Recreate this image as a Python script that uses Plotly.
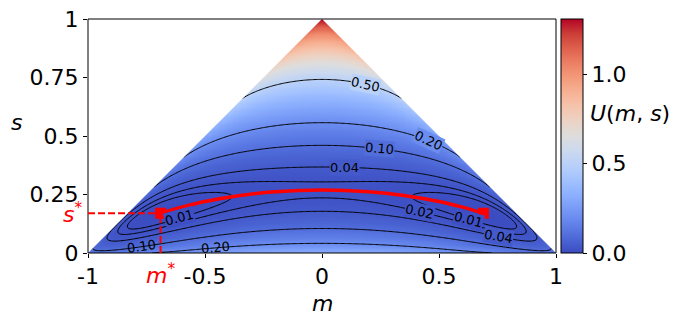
import numpy as np
import plotly.graph_objects as go
from plotly.colors import sample_colorscale

# model parameters (fit so the minimum / saddle match the picture)
K_COUPLING = 1.4631
L_QUARTIC = 0.5567
D_FIELD = -0.305

M_STAR = -0.69
S_STAR = 0.17
LEVELS = [0.01, 0.02, 0.04, 0.10, 0.20, 0.50]
Z_MAX = 1.31

# minimum energy path (red curve)
PATH_M = [-0.69, -0.6, -0.5, -0.35, -0.2, 0.0, 0.2, 0.35, 0.5, 0.6, 0.69]
PATH_S = [0.17, 0.196, 0.22, 0.246, 0.262, 0.269, 0.262, 0.246, 0.22, 0.196, 0.17]

# contour labels: level, m, s, angle, whether the line is broken behind it
LABEL_LEVELS = [0.50, 0.20, 0.10, 0.04, 0.02, 0.01, 0.04, 0.01, 0.10, 0.20]
LABEL_M = [0.187, 0.455, 0.245, 0.094, 0.416, 0.625, 0.754, -0.607, -0.771, -0.457]
LABEL_S = [0.721, 0.478, 0.454, 0.368, 0.167, 0.153, 0.073, 0.153, 0.034, 0.027]
LABEL_ANGLE = [12, 25, 5, 0, 12, 15, 10, -15, -8, -5]
LABEL_GAP = [True, True, True, True, True, True, True, True, False, False]

X_TICKS = [-1, -0.5, 0, 0.5, 1]
X_LABELS = ["-1", "-0.5", "0", "0.5", "1"]
Y_TICKS = [0, 0.25, 0.5, 0.75, 1]
Y_LABELS = ["0", "0.25", "0.5", "0.75", "1"]
CB_TICKS = [0.0, 0.5, 1.0]
CB_LABELS = ["0.0", "0.5", "1.0"]

COOLWARM = [
    [0.0, "rgb(59,76,192)"], [0.0625, "rgb(77,104,215)"], [0.125, "rgb(98,130,234)"],
    [0.1875, "rgb(119,154,247)"], [0.25, "rgb(141,176,254)"], [0.3125, "rgb(163,194,255)"],
    [0.375, "rgb(184,208,249)"], [0.4375, "rgb(204,217,238)"], [0.5, "rgb(221,221,221)"],
    [0.5625, "rgb(236,211,197)"], [0.625, "rgb(245,196,172)"], [0.6875, "rgb(247,177,148)"],
    [0.75, "rgb(244,154,123)"], [0.8125, "rgb(236,127,99)"], [0.875, "rgb(222,96,77)"],
    [0.9375, "rgb(203,62,56)"], [1.0, "rgb(180,4,38)"],
]


def xlogx(x):
    return x * np.log(x)


m = np.linspace(-1, 1, 401)
s = np.linspace(0, 1, 201)
mm, ss = np.meshgrid(m, s)
n_plus = np.clip((1 - ss + mm) / 2, 1e-12, None)
n_minus = np.clip((1 - ss - mm) / 2, 1e-12, None)
s_c = np.clip(ss, 1e-12, None)
g = (-K_COUPLING * mm**2 / 2 - L_QUARTIC * mm**4 / 4 + D_FIELD * (1 - ss)
     + xlogx(n_plus) + xlogx(n_minus) + xlogx(s_c))
inside = np.abs(mm) <= 1 - ss + 1e-9
U = g - g[inside].min()


def snap_to_contour(level, lm, ls):
    """Move a label vertically onto the drawn contour line nearest to it."""
    j = np.argmin(np.abs(m - lm))
    d = U[:, j] - level
    idx = np.where(np.sign(d[:-1]) != np.sign(d[1:]))[0]
    cands = [s[i] + (s[i + 1] - s[i]) * d[i] / (d[i] - d[i + 1]) for i in idx]
    cands = [c for c in cands if c <= 1 - abs(lm)]
    if not cands:
        return ls
    return min(cands, key=lambda c: abs(c - ls))


fig = go.Figure()
fig.add_trace(go.Heatmap(
    x=m, y=s, z=U, zmin=0, zmax=Z_MAX, colorscale=COOLWARM, zsmooth="best",
    hoverinfo="skip",
    colorbar=dict(
        x=1.0107, xanchor="left", y=0.5, yanchor="middle", len=1, lenmode="fraction",
        thickness=22, thicknessmode="pixels", xpad=0, ypad=0,
        outlinewidth=1, outlinecolor="black",
        ticks="outside", ticklen=4, tickwidth=1, tickcolor="black",
        tickvals=CB_TICKS, ticktext=CB_LABELS, tickfont=dict(size=22, color="black"),
    ),
))

for lvl in LEVELS:
    fig.add_trace(go.Contour(
        x=m, y=s, z=U, autocontour=False, showscale=False, hoverinfo="skip",
        contours=dict(start=lvl, end=lvl, size=1, coloring="none", showlabels=False),
        line=dict(color="black", width=1),
    ))

fig.add_trace(go.Scatter(x=PATH_M, y=PATH_S, mode="lines",
                         line=dict(color="red", width=3.5, shape="spline"), hoverinfo="skip"))
fig.add_trace(go.Scatter(x=[M_STAR, -M_STAR], y=[S_STAR, S_STAR], mode="markers",
                         marker=dict(symbol="square", size=11, color="red"), hoverinfo="skip"))

shapes = [
    # white mask outside the triangle
    dict(type="path", path="M -1,0 L 0,1 L -1,1 Z", xref="x", yref="y",
         fillcolor="white", line=dict(width=0), layer="above"),
    dict(type="path", path="M 1,0 L 0,1 L 1,1 Z", xref="x", yref="y",
         fillcolor="white", line=dict(width=0), layer="above"),
    dict(type="rect", xref="x domain", yref="y domain", x0=0, x1=1, y0=0, y1=1,
         line=dict(color="black", width=1), layer="above"),
    dict(type="line", xref="x", yref="y", x0=-1, x1=M_STAR, y0=S_STAR, y1=S_STAR,
         line=dict(color="red", width=2, dash="7px,3px"), layer="above"),
    dict(type="line", xref="x", yref="y", x0=M_STAR, x1=M_STAR, y0=0, y1=S_STAR,
         line=dict(color="red", width=2, dash="7px,3px"), layer="above"),
]

annotations = [
    dict(text="<i>m</i>", x=0.5, y=-0.214, xref="paper", yref="paper",
         xanchor="center", yanchor="middle",
         showarrow=False, font=dict(size=22, color="black")),
    dict(text="<i>s</i>", x=-0.152, y=0.556, xref="paper", yref="paper",
         xanchor="center", yanchor="middle",
         showarrow=False, font=dict(size=22, color="black")),
    dict(text="<i>s</i><sup>*</sup>", x=-0.008, y=S_STAR, xref="paper", yref="y",
         xanchor="right", yanchor="middle", showarrow=False,
         font=dict(size=22, color="red")),
    dict(text="<i>m</i><sup>*</sup>", x=M_STAR, y=-0.09, xref="x", yref="paper",
         xanchor="center", yanchor="middle", showarrow=False,
         font=dict(size=22, color="red")),
    dict(text="<i>U</i>(<i>m</i>, <i>s</i>)", x=1.0684, y=0.598, xref="paper", yref="paper",
         xanchor="left", yanchor="middle", showarrow=False,
         font=dict(size=22, color="black")),
]

# contour labels, on a box of the local fill colour so the line is broken
label_bg = sample_colorscale(COOLWARM, [lv / Z_MAX for lv in LABEL_LEVELS])
for lv, lm, ls, ang, gap, bg in zip(LABEL_LEVELS, LABEL_M, LABEL_S, LABEL_ANGLE,
                                    LABEL_GAP, label_bg):
    annotations.append(dict(
        text=f"{lv:.2f}", x=lm, y=snap_to_contour(lv, lm, ls), xref="x", yref="y",
        xanchor="center", yanchor="middle", showarrow=False, textangle=ang,
        bgcolor=bg if gap else "rgba(0,0,0,0)", borderpad=0,
        font=dict(size=13, color="black"),
    ))

fig.update_layout(
    width=684, height=326,
    margin=dict(l=88, r=128, t=19, b=73, autoexpand=False),
    paper_bgcolor="white", plot_bgcolor="white",
    font=dict(family="DejaVu Sans", size=22, color="black"),
    showlegend=False,
    shapes=shapes, annotations=annotations,
    xaxis=dict(range=[-1, 1], tickvals=X_TICKS, ticktext=X_LABELS, ticks="outside",
               ticklen=4, tickwidth=1, tickcolor="black", showgrid=False, zeroline=False,
               showline=False, automargin=False),
    yaxis=dict(range=[0, 1], tickvals=Y_TICKS, ticktext=Y_LABELS, ticks="outside",
               ticklen=4, tickwidth=1, tickcolor="black", showgrid=False, zeroline=False,
               showline=False, automargin=False),
)

fig.write_html("out.html", config={"displayModeBar": False},
               post_script="document.body.style.margin='0px';")
